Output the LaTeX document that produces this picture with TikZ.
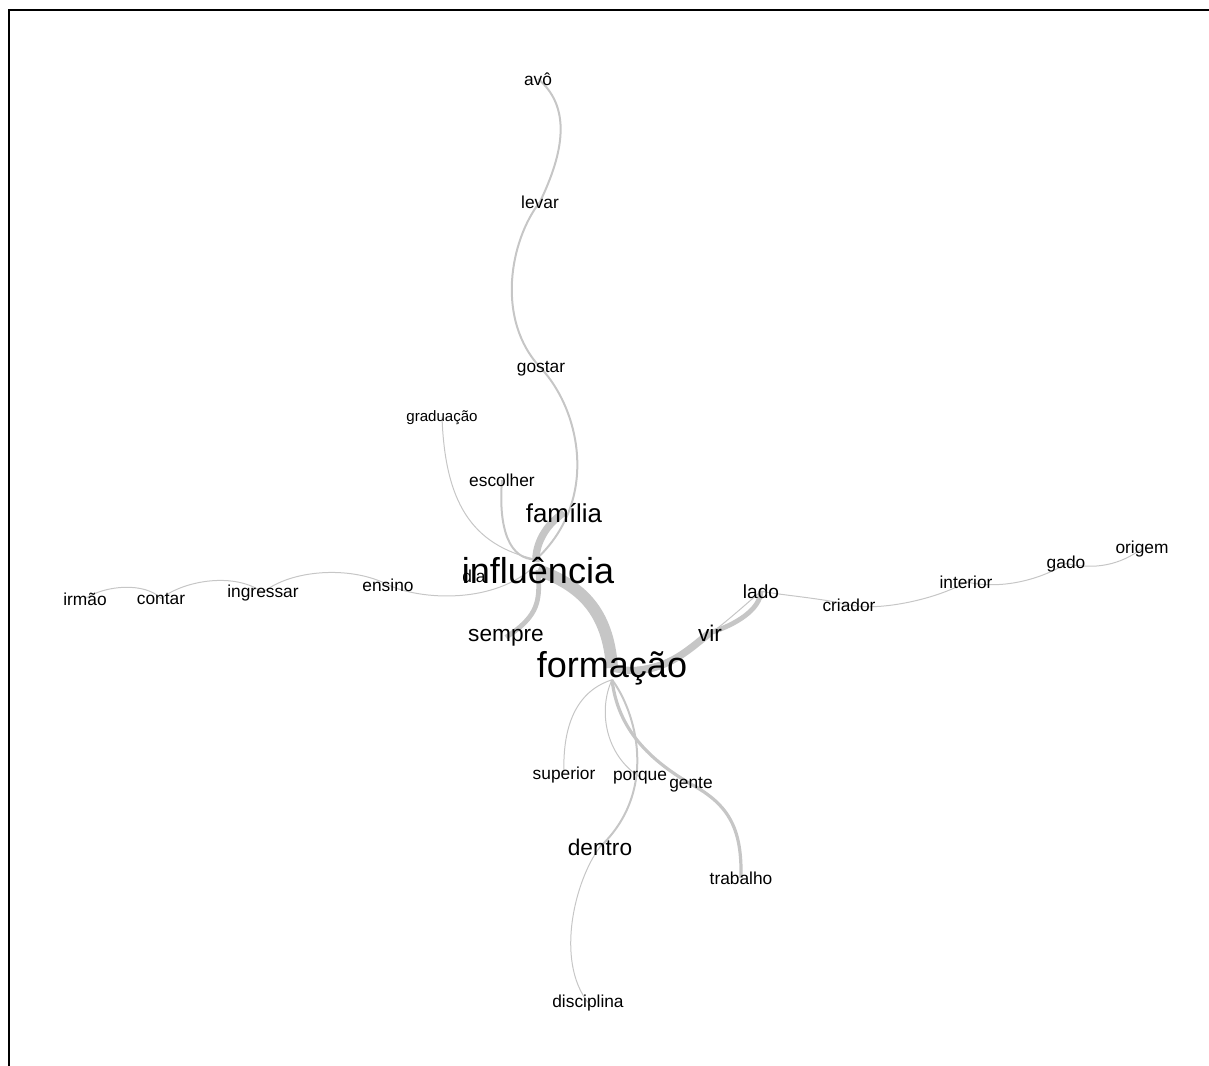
\documentclass[tikz,border=0pt]{standalone}
\usepackage{fontspec}
\setmainfont{Liberation Sans}
\usepackage{tikz}
\usetikzlibrary{backgrounds}
\definecolor{edgegray}{RGB}{198,198,198}

\begin{document}
\begin{tikzpicture}[x=0.75pt,y=-0.75pt]
\tikzstyle{every node}=[inner sep=0pt, anchor=base]
\tikzstyle{word}=[font=\fontsize{13}{15}\selectfont]
\tikzstyle{small word}=[font=\fontsize{11.3}{13}\selectfont]
\tikzstyle{mid word}=[font=\fontsize{14.3}{16}\selectfont]
\tikzstyle{key word}=[font=\fontsize{17}{19}\selectfont]
\tikzstyle{top word}=[font=\fontsize{19.4}{21}\selectfont]
\tikzstyle{hub word}=[font=\fontsize{27}{29}\selectfont]
\tikzstyle{faint link}=[draw=edgegray, line width=0.75pt]
\tikzstyle{plain link}=[draw=edgegray, line width=1.5pt]
\tikzstyle{firm link}=[draw=edgegray, line width=2.4pt]
\tikzstyle{strong link}=[draw=edgegray, line width=3.6pt]
\tikzstyle{heavy link}=[draw=edgegray, line width=5.5pt]
\tikzstyle{main link}=[draw=edgegray, line width=9pt]
\useasboundingbox (0,0) rectangle (1209,1065);
\begin{scope}
\clip (0,0) rectangle (1209,1065);
\draw[line width=2.2pt] (9,10) rectangle (1240,1100);
\end{scope}
\node [word] (avo) at (538,85) {avô};
\node [word] (levar) at (540,208) {levar};
\node [word] (gostar) at (541,372) {gostar};
\node [small word] (graduacao) at (442,421) {graduação};
\node [word] (escolher) at (502,486) {escolher};
\node [top word] (familia) at (564,522) {família};
\node [word] (dia) at (474,582) {dia};
\node [hub word] (influencia) at (538,583) {influência};
\node [word] (irmao) at (85,605) {irmão};
\node [word] (contar) at (161,604) {contar};
\node [word] (ingressar) at (263,597) {ingressar};
\node [word] (ensino) at (388,591) {ensino};
\node [key word] (sempre) at (506,641) {sempre};
\node [hub word] (formacao) at (612,677) {formação};
\node [key word] (vir) at (710,641) {vir};
\node [mid word] (lado) at (761,598) {lado};
\node [word] (criador) at (849,611) {criador};
\node [word] (interior) at (966,588) {interior};
\node [word] (gado) at (1066,568) {gado};
\node [word] (origem) at (1142,553) {origem};
\node [word] (superior) at (564,779) {superior};
\node [word] (porque) at (640,780) {porque};
\node [word] (gente) at (691,788) {gente};
\node [key word] (dentro) at (600,855) {dentro};
\node [word] (trabalho) at (741,884) {trabalho};
\node [word] (disciplina) at (588,1007) {disciplina};
\begin{pgfonlayer}{background}
\draw[plain link] (avo.center) .. controls (575,110) and (560,160) .. (levar.center);
\draw[plain link] (levar.center) .. controls (510,240) and (495,320) .. (gostar.center);
\draw[plain link] (gostar.center) .. controls (580,410) and (600,500) .. ([shift={(-2,8pt)}]influencia.center);
\draw[faint link] (graduacao.center) .. controls (445,500) and (470,545) .. ([shift={(-2,8pt)}]influencia.center);
\draw[plain link] (escolher.center) .. controls (498,530) and (510,560) .. ([shift={(-2,8pt)}]influencia.center);
\draw[heavy link] (familia.center) .. controls (545,525) and (535,545) .. ([shift={(-2,6pt)}]influencia.center);
\draw[strong link] (influencia.center) .. controls (540,600) and (540,615) .. (sempre.center);
\draw[main link] (influencia.center) .. controls (580,585) and (608,610) .. (formacao.center);
\draw[faint link] (ensino.center) .. controls (420,600) and (495,605) .. ([shift={(-2,4pt)}]influencia.center);
\draw[faint link] (ingressar.center) .. controls (290,570) and (350,565) .. (ensino.center);
\draw[faint link] (contar.center) .. controls (185,580) and (235,572) .. (ingressar.center);
\draw[faint link] (irmao.center) .. controls (105,585) and (145,582) .. (contar.center);
\draw[heavy link] (formacao.center) .. controls (660,680) and (690,648) .. (vir.center);
\draw[strong link] (vir.center) .. controls (735,625) and (760,610) .. (lado.center);
\draw[faint link] (formacao.center) .. controls (670,672) and (705,640) .. (lado.center);
\draw[faint link] (lado.center) .. controls (780,595) and (820,598) .. (criador.center);
\draw[faint link] (criador.center) .. controls (880,612) and (940,598) .. (interior.center);
\draw[faint link] (interior.center) .. controls (1000,590) and (1040,580) .. (gado.center);
\draw[faint link] (gado.center) .. controls (1095,570) and (1120,565) .. (origem.center);
\draw[faint link] ([yshift=-9pt]formacao.center) .. controls (580,690) and (562,720) .. (superior.center);
\draw[faint link] ([yshift=-9pt]formacao.center) .. controls (598,710) and (605,755) .. (porque.center);
\draw[plain link] ([yshift=-9pt]formacao.center) .. controls (635,710) and (660,790) .. (dentro.center);
\draw[faint link] (dentro.center) .. controls (575,880) and (555,960) .. (disciplina.center);
\draw[firm link] ([yshift=-9pt]formacao.center) .. controls (618,730) and (650,760) .. (gente.center);
\draw[firm link] (gente.center) .. controls (730,805) and (742,830) .. (trabalho.center);
\end{pgfonlayer}
\end{tikzpicture}
\end{document}
